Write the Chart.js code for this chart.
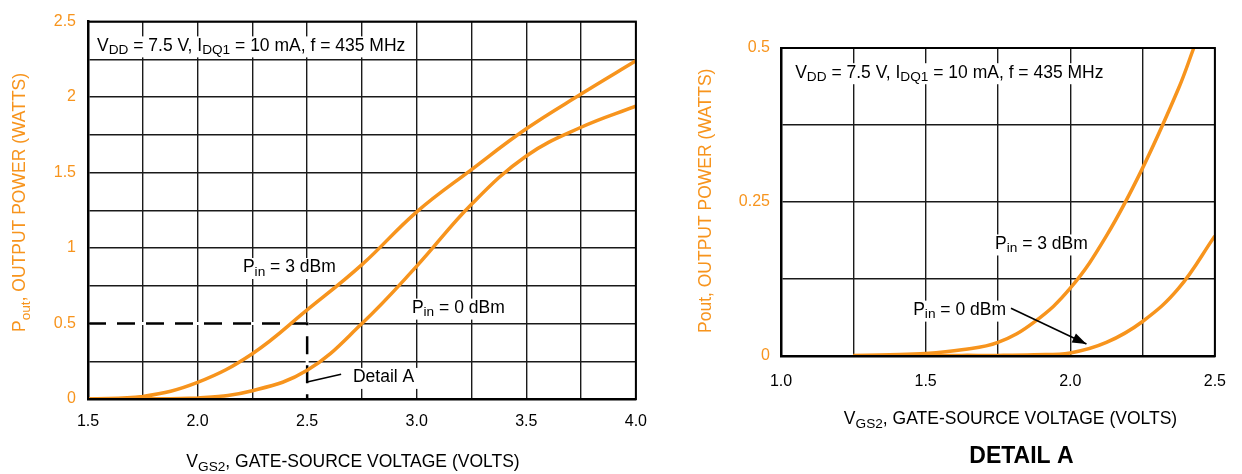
<!DOCTYPE html>
<html>
<head>
<meta charset="utf-8">
<title>Pout vs VGS2</title>
<script src="https://cdn.jsdelivr.net/npm/chart.js"></script>
<style>
    html, body { margin: 0; padding: 0; background: #fff; }
    #wrap { position: relative; width: 1242px; height: 474px; overflow: hidden; }
    .box { position: absolute; top: 0; height: 474px; }
    #leftBox { left: 0; width: 660px; }
    #rightBox { left: 690px; width: 552px; }
</style>
</head>
<body>
<div id="wrap">
    <div class="box" id="leftBox"><canvas id="mainChart"></canvas></div>
    <div class="box" id="rightBox"><canvas id="detailChart"></canvas></div>
</div>

<script>
    // main plot, 1.5 to 4.0 V
    const mainVgs = [1.5, 1.75, 2.0, 2.25, 2.5, 2.75, 3.0, 3.25, 3.5, 3.75, 4.0];
    const mainPin3 = [0, 0.017, 0.11, 0.30, 0.59, 0.89, 1.24, 1.52, 1.79, 2.02, 2.24];
    const mainPin0 = [0, 0.001, 0.006, 0.055, 0.19, 0.50, 0.88, 1.29, 1.61, 1.80, 1.94];
    const detailBoxVgs = [1.5, 2.5, 2.5];
    const detailBoxPout = [0.5, 0.5, 0];
    const mainXTicks = ['1.5', '2.0', '2.5', '3.0', '3.5', '4.0'];
    const mainYTicks = ['0', '0.5', '1', '1.5', '2', '2.5'];

    // detail A, 1.0 to 2.5 V
    const detailVgs3 = [1.25, 1.375, 1.5, 1.625, 1.75, 1.875, 2.0, 2.125, 2.25, 2.375, 2.427];
    const detailPin3 = [0.001, 0.002, 0.004, 0.010, 0.022, 0.055, 0.11, 0.195, 0.305, 0.435, 0.5];
    const detailVgs0 = [1.25, 1.375, 1.5, 1.625, 1.75, 1.875, 2.0, 2.125, 2.25, 2.375, 2.5];
    const detailPin0 = [0, 0, 0.0005, 0.001, 0.001, 0.002, 0.005, 0.022, 0.056, 0.11, 0.195];
    const detailXTicks = ['1.0', '1.5', '2.0', '2.5'];
    const detailYTicks = ['0', '0.25', '0.5'];

    const FONT = '"Liberation Sans", Arial, Helvetica, sans-serif';
    const ORANGE = '#F7941D';

    const headerParts = [['V'], ['DD', 1], [' = 7.5 V, I'], ['DQ1', 1], [' = 10 mA, f = 435 MHz']];
    const pin3Parts = [['P'], ['in', 1], [' = 3 dBm']];
    const pin0Parts = [['P'], ['in', 1], [' = 0 dBm']];
    const xTitleParts = [['V'], ['GS2', 1], [', GATE-SOURCE VOLTAGE (VOLTS)']];

    function pts(xs, ys) {
        return xs.map((x, i) => ({ x: x, y: ys[i] }));
    }

    function tickLabel(list) {
        return (v) => {
            const hit = list.find(t => Math.abs(parseFloat(t) - v) < 1e-6);
            return hit === undefined ? '' : hit;
        };
    }

    function richWidth(ctx, parts, size) {
        let w = 0;
        parts.forEach(([t, sub]) => {
            ctx.font = (sub ? size * 0.78 : size) + 'px ' + FONT;
            w += ctx.measureText(t).width;
        });
        return w;
    }

    function richText(ctx, x, y, parts, size, bg) {
        const w = richWidth(ctx, parts, size);
        if (bg) {
            ctx.fillStyle = '#fff';
            ctx.fillRect(x - 4, y - size * 0.82, w + 8, size * 1.2);
        }
        ctx.fillStyle = '#000';
        ctx.textAlign = 'left';
        ctx.textBaseline = 'alphabetic';
        let cx = x;
        parts.forEach(([t, sub]) => {
            ctx.font = (sub ? size * 0.78 : size) + 'px ' + FONT;
            ctx.fillText(t, cx, sub ? y + size * 0.2 : y);
            cx += ctx.measureText(t).width;
        });
    }

    function arrow(ctx, x1, y1, x2, y2, head) {
        ctx.beginPath();
        ctx.moveTo(x1, y1);
        ctx.lineTo(x2, y2);
        ctx.stroke();
        if (!head) return;
        const a = Math.atan2(y2 - y1, x2 - x1);
        ctx.beginPath();
        ctx.moveTo(x2, y2);
        ctx.lineTo(x2 - 14 * Math.cos(a) + 5 * Math.sin(a), y2 - 14 * Math.sin(a) - 5 * Math.cos(a));
        ctx.lineTo(x2 - 14 * Math.cos(a) - 5 * Math.sin(a), y2 - 14 * Math.sin(a) + 5 * Math.cos(a));
        ctx.closePath();
        ctx.fill();
    }

    // annotations, labels and titles drawn on top of the plot
    function notes(cfg) {
        return {
            id: 'notes',
            afterDatasetsDraw(chart) {
                const ctx = chart.ctx;
                const sx = chart.scales.x, sy = chart.scales.y;
                const a = chart.chartArea;
                const px = v => sx.getPixelForValue(v);
                const py = v => sy.getPixelForValue(v);
                ctx.save();

                // frame
                ctx.strokeStyle = '#000';
                ctx.lineWidth = 2;
                ctx.strokeRect(a.left, a.top, a.right - a.left, a.bottom - a.top);

                cfg.texts.forEach(t => richText(ctx, px(t.v), py(t.p), t.parts, 17.5, true));

                ctx.strokeStyle = '#000';
                ctx.fillStyle = '#000';
                ctx.lineWidth = 1.6;
                cfg.lines.forEach(l => arrow(ctx, px(l.v1), py(l.p1), px(l.v2), py(l.p2), l.head));

                // x title
                const xw = richWidth(ctx, xTitleParts, 17.5);
                richText(ctx, cfg.xTitle[0] - xw / 2, cfg.xTitle[1], xTitleParts, 17.5, false);

                // y title, rotated
                ctx.translate(cfg.yTitle[0], cfg.yTitle[1]);
                ctx.rotate(-Math.PI / 2);
                let cx = 0;
                cfg.yParts.forEach(([t, sub]) => {
                    ctx.font = (sub ? 17.5 * 0.78 : 17.5) + 'px ' + FONT;
                    ctx.fillStyle = ORANGE;
                    ctx.fillText(t, cx, sub ? 17.5 * 0.28 : 0);
                    cx += ctx.measureText(t).width;
                });
                ctx.setTransform(1, 0, 0, 1, 0, 0);
                ctx.restore();

                if (cfg.caption) {
                    ctx.save();
                    ctx.font = 'bold 23px ' + FONT;
                    ctx.fillStyle = '#000';
                    ctx.textAlign = 'center';
                    ctx.fillText(cfg.caption[0], cfg.caption[1], cfg.caption[2]);
                    ctx.restore();
                }
            }
        };
    }

    function scales(xMin, xMax, xTicks, yMax, yStep, yTicks, xPad, yPad, yWidth, xHeight) {
        return {
            x: {
                type: 'linear', min: xMin, max: xMax,
                afterFit: s => { s.height = xHeight; },
                grid: { color: '#1a1a1a', lineWidth: 1.4, drawTicks: false },
                border: { color: '#000', width: 2.5 },
                ticks: {
                    stepSize: 0.25, autoSkip: false, maxRotation: 0, padding: xPad,
                    color: '#000', font: { family: FONT, size: 16 },
                    callback: tickLabel(xTicks)
                }
            },
            y: {
                type: 'linear', min: 0, max: yMax,
                afterFit: s => { s.width = yWidth; },
                grid: { color: '#1a1a1a', lineWidth: 1.4, drawTicks: false },
                border: { color: '#000', width: 2.5 },
                ticks: {
                    stepSize: yStep, autoSkip: false, padding: yPad,
                    color: ORANGE, font: { family: FONT, size: 16 },
                    callback: tickLabel(yTicks)
                }
            }
        };
    }

    const curve = { borderColor: ORANGE, borderWidth: 3.5, pointRadius: 0, tension: 0.4, fill: false, order: 0 };

    new Chart(document.getElementById('mainChart'), {
        type: 'line',
        data: {
            datasets: [
                Object.assign({ label: 'Pin = 3 dBm', data: pts(mainVgs, mainPin3) }, curve),
                Object.assign({ label: 'Pin = 0 dBm', data: pts(mainVgs, mainPin0) }, curve),
                { label: 'Detail A', data: pts(detailBoxVgs, detailBoxPout), borderColor: '#000', borderWidth: 2.5,
                  borderDash: [18, 11], pointRadius: 0, tension: 0, fill: false, order: 1 },
                // white under the dashes so the grid does not show through the gaps
                { label: '', data: pts(detailBoxVgs, detailBoxPout), borderColor: '#fff', borderWidth: 3,
                  pointRadius: 0, tension: 0, fill: false, order: 2 }
            ]
        },
        options: {
            responsive: true, maintainAspectRatio: false, animation: false,
            layout: { padding: { top: 17, right: 24, bottom: 0, left: 0 } },
            plugins: { legend: { display: false }, tooltip: { enabled: false } },
            scales: scales(1.5, 4.0, mainXTicks, 2.5, 0.25, mainYTicks, 13, 12, 88, 75)
        },
        plugins: [notes({
            texts: [
                { v: 1.541, p: 2.307, parts: headerParts },
                { v: 2.207, p: 0.839, parts: pin3Parts },
                { v: 2.978, p: 0.570, parts: pin0Parts },
                { v: 2.709, p: 0.111, parts: [['Detail A']] }
            ],
            lines: [{ v1: 2.5, p1: 0.113, v2: 2.655, p2: 0.164, head: false }],
            xTitle: [353, 467],
            yTitle: [25, 332],
            yParts: [['P'], ['out', 1], [', OUTPUT POWER (WATTS)']]
        })]
    });

    new Chart(document.getElementById('detailChart'), {
        type: 'line',
        data: {
            datasets: [
                Object.assign({ label: 'Pin = 3 dBm', data: pts(detailVgs3, detailPin3) }, curve),
                Object.assign({ label: 'Pin = 0 dBm', data: pts(detailVgs0, detailPin0) }, curve)
            ]
        },
        options: {
            responsive: true, maintainAspectRatio: false, animation: false,
            layout: { padding: { top: 48, right: 21, bottom: 0, left: 0 } },
            plugins: { legend: { display: false }, tooltip: { enabled: false } },
            scales: scales(1.0, 2.5, detailXTicks, 0.5, 0.125, detailYTicks, 16, 11, 91, 118)
        },
        plugins: [notes({
            texts: [
                { v: 1.049, p: 0.452, parts: headerParts },
                { v: 1.740, p: 0.174, parts: pin3Parts },
                { v: 1.457, p: 0.0666, parts: pin0Parts }
            ],
            lines: [{ v1: 1.795, p1: 0.0774, v2: 2.056, p2: 0.0195, head: true }],
            xTitle: [320.5, 424],
            yTitle: [21, 333],
            yParts: [['Pout, OUTPUT POWER (WATTS)']],
            caption: ['DETAIL A', 331.5, 463]
        })]
    });
</script>
</body>
</html>
